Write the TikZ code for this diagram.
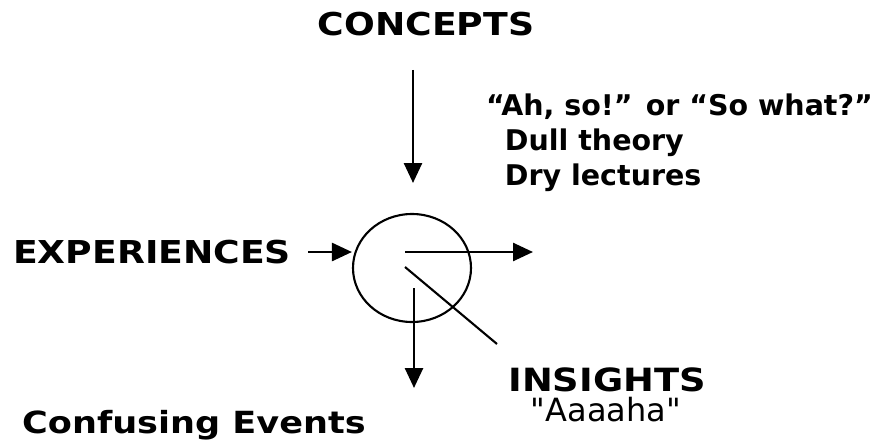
\documentclass[tikz,border=0pt]{standalone}
\usepackage{fontspec}
\setmainfont{DejaVu Sans}
\newfontfamily\widefont[FakeStretch=1.15]{DejaVu Sans}
\usetikzlibrary{arrows.meta,shapes.geometric}
\begin{document}
\begin{tikzpicture}[x=1pt,y=-1pt,
  hd/.style={font=\widefont\fontsize{31.5}{36}\selectfont\bfseries,inner sep=0pt},
  arr/.style={line width=2.6pt,-{Triangle[length=20pt,width=18pt]}}]
  \useasboundingbox (0,0) rectangle (880,441);
  % Circle in the middle
  \node[draw,ellipse,line width=2.1pt,minimum width=118pt,minimum height=108pt,inner sep=0pt] (mind) at (412,268) {};
  % Labels
  \node[hd,anchor=base] (concepts) at (426,36) {CONCEPTS};
  \node[hd,anchor=base west] (exper) at (13,263) {EXPERIENCES};
  \node[hd,font=\widefont\fontsize{30.5}{36}\selectfont\bfseries,anchor=base west] (events) at (22,433) {Confusing Events};
  \node[hd,font=\widefont\fontsize{32}{38}\selectfont\bfseries,anchor=base] (insights) at (607,391) {INSIGHTS};
  \node[font=\fontsize{32}{38}\selectfont,inner sep=0pt,anchor=base] (aha) at (606,421) {\textquotedbl Aaaaha\textquotedbl};
  \node[font=\fontsize{28.5}{35}\selectfont\bfseries,align=left,anchor=north west,inner sep=0pt]
    (remarks) at (486,94) {“Ah, so!” or “So what?”\\\phantom{“}Dull theory\\\phantom{“}Dry lectures};
  % Free ends of the arrows
  \coordinate (ctop) at (413,70);
  \coordinate (cend) at (413,183);
  \coordinate (ein) at (308,252);
  \coordinate (rin) at (405,252);
  \coordinate (rout) at (533,252);
  \coordinate (din) at (414,288);
  \coordinate (dout) at (414,388);
  \coordinate (sin) at (405,267);
  \coordinate (sout) at (497,344);
  % Arrows
  \draw[arr] (ctop) -- (cend);
  \draw[arr] (ein) -- (ein -| mind.west);
  \draw[arr] (rin) -- (rout);
  \draw[arr] (din) -- (dout);
  \draw[line width=2.1pt] (sin) -- (sout);
\end{tikzpicture}
\end{document}
